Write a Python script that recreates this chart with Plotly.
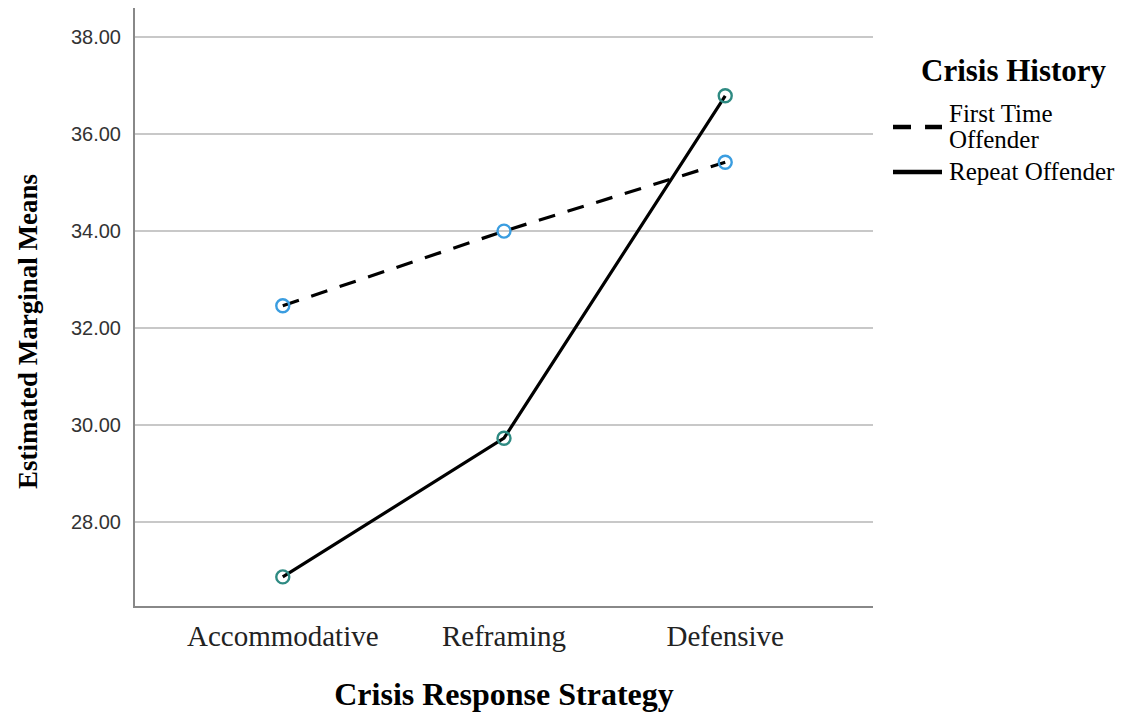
import plotly.graph_objects as go

categories = ["Accommodative", "Reframing", "Defensive"]
first_time = [32.46, 34.00, 35.42]
repeat = [26.87, 29.73, 36.79]
legend_title = "Crisis History"
series_labels = [["First Time", "Offender"], ["Repeat Offender"]]
y_ticks = [28, 30, 32, 34, 36, 38]
y_tick_labels = ["28.00", "30.00", "32.00", "34.00", "36.00", "38.00"]

xi = list(range(len(categories)))
DASH = "17px,13px"

fig = go.Figure()
fig.add_trace(go.Scatter(x=xi, y=first_time, mode="lines", showlegend=False,
                         line=dict(color="black", width=3.2, dash=DASH)))
fig.add_trace(go.Scatter(x=xi, y=repeat, mode="lines", showlegend=False,
                         line=dict(color="black", width=3.2)))
fig.add_trace(go.Scatter(x=xi, y=first_time, mode="markers", showlegend=False,
                         marker=dict(symbol="circle-open", size=13, color="#3a9de0",
                                     line=dict(width=2.4, color="#3a9de0"))))
fig.add_trace(go.Scatter(x=xi, y=repeat, mode="markers", showlegend=False,
                         marker=dict(symbol="circle-open", size=13, color="#2e8a82",
                                     line=dict(width=2.4, color="#2e8a82"))))

# custom legend (paper coordinates)
serif = "Liberation Serif"
fig.add_annotation(xref="paper", yref="paper", x=1.191, y=0.8963, text="<b>" + legend_title + "</b>",
                   showarrow=False, xanchor="center", yanchor="middle",
                   font=dict(family=serif, size=31, color="black"))
# dashed sample
fig.add_shape(type="line", xref="paper", yref="paper", x0=1.0271, x1=1.0515, y0=0.801, y1=0.801,
              line=dict(color="black", width=4.5))
fig.add_shape(type="line", xref="paper", yref="paper", x0=1.0705, x1=1.0935, y0=0.801, y1=0.801,
              line=dict(color="black", width=4.5))
# solid sample
fig.add_shape(type="line", xref="paper", yref="paper", x0=1.0271, x1=1.0935, y0=0.7258, y1=0.7258,
              line=dict(color="black", width=4.5))
fig.add_annotation(xref="paper", yref="paper", x=1.1003, y=0.8244, text=series_labels[0][0],
                   showarrow=False, xanchor="left", yanchor="middle",
                   font=dict(family=serif, size=25, color="black"))
fig.add_annotation(xref="paper", yref="paper", x=1.1003, y=0.7793, text=series_labels[0][1],
                   showarrow=False, xanchor="left", yanchor="middle",
                   font=dict(family=serif, size=25, color="black"))
fig.add_annotation(xref="paper", yref="paper", x=1.1003, y=0.7258, text=series_labels[1][0],
                   showarrow=False, xanchor="left", yanchor="middle",
                   font=dict(family=serif, size=25, color="black"))

# y-axis title
fig.add_annotation(xref="paper", yref="paper", x=-0.145, y=0.46, text="<b>Estimated Marginal Means</b>",
                   textangle=-90, showarrow=False, xanchor="center", yanchor="middle",
                   font=dict(family=serif, size=27, color="black"))

fig.update_layout(
    width=1125, height=715,
    margin=dict(l=127, r=260, t=0, b=117),
    paper_bgcolor="white", plot_bgcolor="white",
    showlegend=False,
    xaxis=dict(
        range=[-0.668, 2.668],
        tickmode="array", tickvals=xi, ticktext=categories,
        tickfont=dict(family=serif, size=29, color="#222"),
        showgrid=False, zeroline=False,
        showline=True, linecolor="#888", linewidth=2,
        ticks="outside", ticklen=3, tickcolor="rgba(0,0,0,0)",
        title=dict(text="<b>Crisis Response Strategy</b>",
                   font=dict(family=serif, size=32, color="black"),
                   standoff=32),
    ),
    yaxis=dict(
        range=[26.27, 38.6],
        tickmode="array", tickvals=y_ticks, ticktext=y_tick_labels,
        tickfont=dict(family="Liberation Sans", size=20, color="#333"),
        showgrid=True, gridcolor="#c8c8c8", gridwidth=2,
        zeroline=False,
        showline=True, linecolor="#888", linewidth=2,
        ticks="outside", ticklen=8, tickcolor="rgba(0,0,0,0)",
    ),
)

fig.write_html("out.html")
